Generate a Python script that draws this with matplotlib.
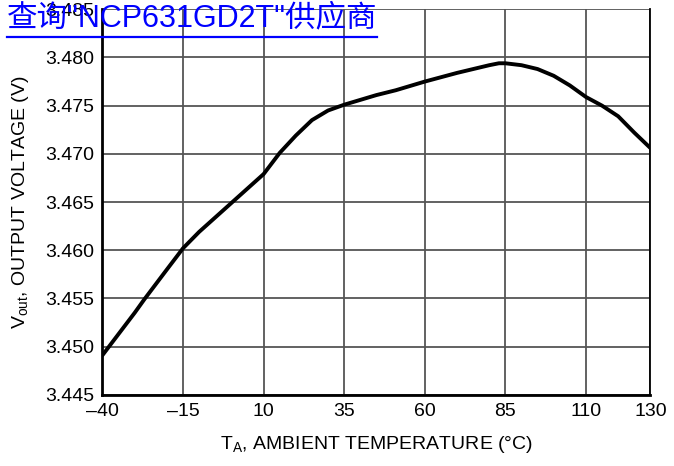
import matplotlib
matplotlib.use("Agg")
import matplotlib.pyplot as plt

# Output voltage vs. ambient temperature
temp_c = [-40, -35, -30, -27, -20, -15, -10, -5, 0, 3, 10, 15, 20, 25, 30, 35,
          45, 51, 60, 70, 80, 83, 85, 90, 95, 100, 105, 110, 115, 120, 125, 130]
vout = [3.4491, 3.4513, 3.4535, 3.4549, 3.4580, 3.4602, 3.4619, 3.4634, 3.4649,
        3.4658, 3.4679, 3.4701, 3.4719, 3.4735, 3.4745, 3.4751,
        3.4761, 3.4766, 3.4775, 3.4784, 3.4792, 3.4794, 3.4794, 3.4792, 3.4788,
        3.4781, 3.4771, 3.4759, 3.4750, 3.4739, 3.4722, 3.4706]

x_ticks = [-40, -15, 10, 35, 60, 85, 110, 130]
x_labels = ["\u201340", "\u201315", "10", "35", "60", "85", "110", "130"]
y_ticks = [3.445, 3.450, 3.455, 3.460, 3.465, 3.470, 3.475, 3.480, 3.485]

plt.rcParams['font.family'] = ['Liberation Sans', 'DejaVu Sans']

fig = plt.figure(figsize=(6.74, 4.66), dpi=100)
ax = fig.add_axes([0.152, 0.153, 0.813, 0.827])

ax.plot(temp_c, vout, color="black", lw=2.8, solid_capstyle="round", zorder=3)

ax.set_xlim(-40, 130)
ax.set_ylim(3.445, 3.485)
ax.set_xticks(x_ticks)
ax.set_xticklabels(x_labels)
ax.set_yticks(y_ticks)
ax.set_yticklabels([f"{v:.3f}" for v in y_ticks])
ax.tick_params(length=0, labelsize=14, pad=6, colors="black")

ax.grid(True, color="#555555", lw=1.3)
for s in ax.spines.values():
    s.set_linewidth(2)
    s.set_color("black")
ax.spines['top'].set_visible(False)
ax.spines['right'].set_linewidth(1.3)

ax.set_xlabel("T$_\\mathregular{A}$, AMBIENT TEMPERATURE (\u00b0C)", fontsize=14, labelpad=10)
ax.set_ylabel("V$_\\mathregular{out}$, OUTPUT VOLTAGE (V)", fontsize=14, labelpad=10)

# link-style caption overlapping the top-left corner
fig.text(0.010, 0.943, "查询\"NCP631GD2T\"供应商", color="#0000ff", fontsize=22,
         family=['Liberation Sans', 'Noto Sans CJK SC'], va="baseline")
fig.add_artist(plt.Line2D([0.010, 0.560], [0.921, 0.921], color="#0000ff", lw=1.6,
                          transform=fig.transFigure))

fig.savefig("out.png", dpi=100)
